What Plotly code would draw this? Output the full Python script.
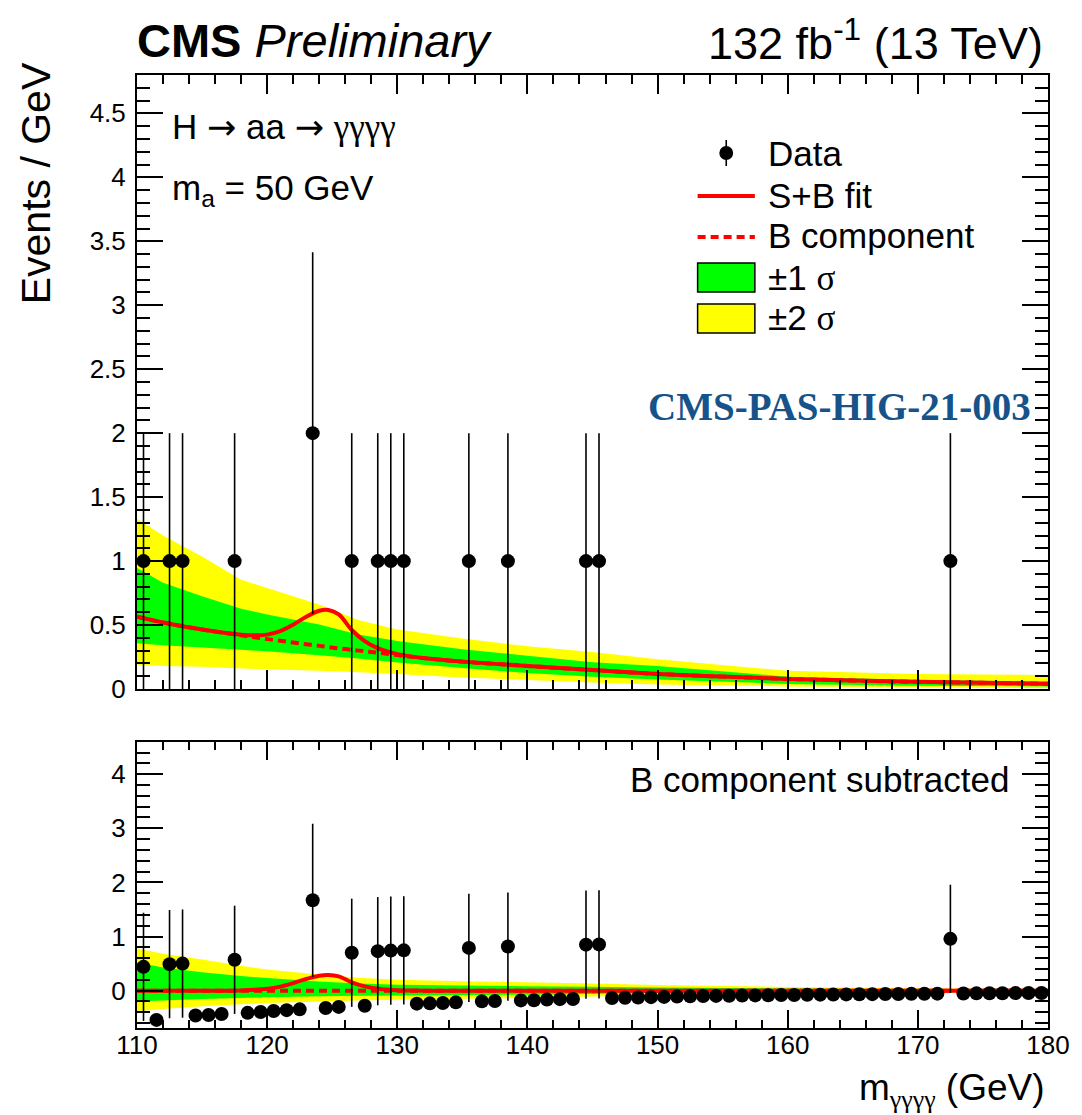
import numpy as np
import plotly.graph_objects as go

# ---------------------------------------------------------------- data
# 1 GeV bins from 110 to 180 GeV
bin_centers = np.arange(110.5, 180.0, 1.0)

# observed events per bin
counts = [1, 0, 1, 1, 0, 0, 0, 1, 0, 0,
          0, 0, 0, 2, 0, 0, 1, 0, 1, 1,
          1, 0, 0, 0, 0, 1, 0, 0, 1, 0,
          0, 0, 0, 0, 1, 1, 0, 0, 0, 0,
          0, 0, 0, 0, 0, 0, 0, 0, 0, 0,
          0, 0, 0, 0, 0, 0, 0, 0, 0, 0,
          0, 0, 1, 0, 0, 0, 0, 0, 0, 0]

# data after subtracting the background component (events / GeV)
residuals = [0.44, -0.54, 0.49, 0.50, -0.46, -0.45, -0.43, 0.57, -0.41, -0.395,
             -0.377, -0.36, -0.345, 1.67, -0.32, -0.30, 0.70, -0.28, 0.73, 0.74,
             0.745, -0.24, -0.235, -0.228, -0.216, 0.79, -0.198, -0.19, 0.815, -0.18,
             -0.178, -0.165, -0.157, -0.155, 0.85, 0.855, -0.136, -0.13, -0.126, -0.12,
             -0.115, -0.11, -0.105, -0.10, -0.097, -0.094, -0.091, -0.088, -0.085, -0.082,
             -0.079, -0.077, -0.074, -0.072, -0.069, -0.067, -0.065, -0.063, -0.061, -0.059,
             -0.057, -0.055, 0.957, -0.052, -0.05, -0.048, -0.047, -0.045, -0.044, -0.042]

# fit curves
curve_x = [110, 112, 115, 118, 119, 120, 121, 122, 123, 124, 124.7, 125.5, 126.5,
           127.5, 128.5, 130, 132, 135, 140, 145, 150, 155, 160, 165, 170, 175, 180]
b_curve = [0.565, 0.52, 0.465, 0.42, 0.405, 0.39, 0.377, 0.363, 0.35, 0.337, 0.328, 0.318,
           0.306, 0.295, 0.284, 0.265, 0.242, 0.214, 0.18, 0.148, 0.118, 0.097, 0.079,
           0.066, 0.056, 0.048, 0.041]
sb_curve = [0.565, 0.52, 0.465, 0.425, 0.42, 0.425, 0.452, 0.503, 0.565, 0.612, 0.618, 0.583,
            0.461, 0.375, 0.319, 0.273, 0.242, 0.214, 0.18, 0.148, 0.118, 0.097, 0.079,
            0.066, 0.056, 0.048, 0.041]

# uncertainty bands of the background component
band_x = [110, 112, 115, 118, 120, 124, 127, 130, 135, 140, 145, 150, 160, 170, 180]
top_up2 = [1.33, 1.20, 1.035, 0.855, 0.79, 0.66, 0.54, 0.466, 0.394, 0.335, 0.29, 0.233, 0.142, 0.117, 0.109]
top_up1 = [0.945, 0.83, 0.725, 0.627, 0.583, 0.505, 0.427, 0.376, 0.31, 0.26, 0.21, 0.18, 0.096, 0.07, 0.057]
top_lo1 = [0.357, 0.342, 0.324, 0.306, 0.295, 0.264, 0.238, 0.207, 0.165, 0.125, 0.095, 0.075, 0.04, 0.026, 0.02]
top_lo2 = [0.19, 0.18, 0.173, 0.16, 0.155, 0.142, 0.13, 0.117, 0.09, 0.07, 0.05, 0.035, 0.02, 0.013, 0.005]

bot_up2 = [0.78, 0.68, 0.574, 0.46, 0.39, 0.30, 0.24, 0.20, 0.175, 0.155, 0.13, 0.105, 0.068, 0.043, 0.03]
bot_up1 = [0.52, 0.43, 0.34, 0.27, 0.235, 0.17, 0.13, 0.11, 0.095, 0.08, 0.07, 0.06, 0.04, 0.025, 0.018]
bot_lo1 = [-0.2, -0.18, -0.155, -0.135, -0.124, -0.105, -0.095, -0.09, -0.082, -0.075, -0.06, -0.04, -0.03, -0.02, -0.015]
bot_lo2 = [-0.38, -0.34, -0.29, -0.25, -0.23, -0.2, -0.18, -0.17, -0.15, -0.136, -0.11, -0.087, -0.06, -0.04, -0.03]

# ---------------------------------------------------------------- style
W, H = 1082, 1115
ML, MR, MT, MB = 137, 22, 75, 87
FONT = "Liberation Sans, Arial, Helvetica, sans-serif"
SERIF = "Liberation Serif, Times New Roman, serif"
RED, GREEN, YELLOW = "#ff0000", "#00ff00", "#ffff00"


def px(x):
    return (x - ML) / (W - ML - MR)


def py(y):
    return (H - MB - y) / (H - MT - MB)


def greek(s):
    return '<span style="font-family:%s">%s</span>' % (SERIF, s)


ARROW = '<span style="font-family:DejaVu Sans">→</span>'

counts = np.array(counts, dtype=float)
residuals = np.array(residuals)
errors = np.sqrt(counts)
nonzero = counts > 0

fig = go.Figure()


def band(xs, lo, hi, color, xa, ya):
    fig.add_trace(go.Scatter(
        x=list(xs) + list(xs)[::-1], y=list(hi) + list(lo)[::-1],
        fill="toself", fillcolor=color, mode="none",
        xaxis=xa, yaxis=ya, showlegend=False, hoverinfo="skip"))


# top panel
band(band_x, top_lo2, top_up2, YELLOW, "x", "y")
band(band_x, top_lo1, top_up1, GREEN, "x", "y")
fig.add_trace(go.Scatter(x=curve_x, y=b_curve, mode="lines", line_shape="spline",
                         line=dict(color=RED, width=4, dash="8px,5px"),
                         xaxis="x", yaxis="y", showlegend=False))
fig.add_trace(go.Scatter(x=curve_x, y=sb_curve, mode="lines", line_shape="spline",
                         line=dict(color=RED, width=4),
                         xaxis="x", yaxis="y", showlegend=False))
fig.add_trace(go.Scatter(
    x=bin_centers[nonzero], y=counts[nonzero], mode="markers",
    marker=dict(color="black", size=14),
    error_y=dict(type="data", array=errors[nonzero], visible=True,
                 thickness=1.6, width=0, color="black"),
    xaxis="x", yaxis="y", showlegend=False))

# bottom panel
zeros = [0.0] * len(curve_x)
sig_only = [s - b for s, b in zip(sb_curve, b_curve)]
band(band_x, bot_lo2, bot_up2, YELLOW, "x2", "y2")
band(band_x, bot_lo1, bot_up1, GREEN, "x2", "y2")
fig.add_trace(go.Scatter(x=curve_x, y=zeros, mode="lines",
                         line=dict(color=RED, width=4, dash="8px,5px"),
                         xaxis="x2", yaxis="y2", showlegend=False))
fig.add_trace(go.Scatter(x=curve_x, y=sig_only, mode="lines", line_shape="spline",
                         line=dict(color=RED, width=4),
                         xaxis="x2", yaxis="y2", showlegend=False))
fig.add_trace(go.Scatter(
    x=bin_centers, y=residuals, mode="markers",
    marker=dict(color="black", size=14),
    error_y=dict(type="data", array=errors, visible=True,
                 thickness=1.6, width=0, color="black"),
    xaxis="x2", yaxis="y2", showlegend=False))

top_dom = [py(689), 1.0]
bot_dom = [0.0, py(741.7)]

common = dict(showline=True, linecolor="black", linewidth=2, mirror="allticks",
              ticks="inside", tickcolor="black", tickwidth=1.5, showgrid=False,
              zeroline=False, tickfont=dict(family=FONT, size=26, color="black"))

fig.update_layout(
    width=W, height=H, margin=dict(l=ML, r=MR, t=MT, b=MB),
    paper_bgcolor="white", plot_bgcolor="white", showlegend=False,
    font=dict(family=FONT, color="black"),
    xaxis=dict(common, domain=[0, 1], range=[110, 180], anchor="y",
               dtick=10, tick0=110, ticklen=19, showticklabels=False,
               minor=dict(dtick=2, ticklen=9, ticks="inside", tickcolor="black", tickwidth=1.5)),
    yaxis=dict(common, domain=top_dom, range=[0, 4.8], anchor="x",
               dtick=0.5, tick0=0, ticklen=26, ticklabelstandoff=4,
               minor=dict(dtick=0.1, ticklen=13, ticks="inside", tickcolor="black", tickwidth=1.5)),
    xaxis2=dict(common, domain=[0, 1], range=[110, 180], anchor="y2",
                dtick=10, tick0=110, ticklen=18, ticklabelstandoff=-7,
                minor=dict(dtick=2, ticklen=8, ticks="inside", tickcolor="black", tickwidth=1.5)),
    yaxis2=dict(common, domain=bot_dom, range=[-0.69, 4.6], anchor="x2",
                dtick=1, tick0=0, ticklen=26, ticklabelstandoff=4,
                minor=dict(dtick=0.2, ticklen=13, ticks="inside", tickcolor="black", tickwidth=1.5)),
)


def text(x, y, s, size, xanchor="left", yanchor="middle", color="black", family=FONT, angle=0):
    fig.add_annotation(x=px(x), y=py(y), xref="paper", yref="paper", text=s,
                       showarrow=False, xanchor=xanchor, yanchor=yanchor,
                       textangle=angle, font=dict(family=family, size=size, color=color))


# header
text(135, 40, "<b>CMS</b> <i>Preliminary</i>", 47)
text(1057, 40, "132 fb<sup>-1</sup> (13 TeV)", 45, xanchor="right")

# axis titles
text(1059, 1090, "m<sub>" + greek("γγγγ") + "</sub> (GeV)", 37, xanchor="right")
text(35, 60, "Events / GeV", 41, xanchor="center", yanchor="top", angle=-90)

# panel labels
text(170, 127, "H " + ARROW + " aa " + ARROW + " " + greek("γγγγ"), 35)
text(170, 190, "m<sub>a</sub> = 50 GeV", 35)
text(1023, 779, "B component subtracted", 35, xanchor="right")
text(1045, 406, "<b>CMS-PAS-HIG-21-003</b>", 39, xanchor="right",
     color="#15538a", family=SERIF)

# legend
lx0, lx1 = 705, 763
lxc = (lx0 + lx1) / 2
fig.add_shape(type="line", xref="paper", yref="paper",
              x0=px(lxc), x1=px(lxc), y0=py(140), y1=py(166),
              line=dict(color="black", width=1.6))
fig.add_shape(type="circle", xref="paper", yref="paper",
              x0=px(lxc - 7), x1=px(lxc + 7), y0=py(160), y1=py(146),
              fillcolor="black", line=dict(color="black", width=0))
fig.add_shape(type="line", xref="paper", yref="paper",
              x0=px(lx0), x1=px(lx1), y0=py(196), y1=py(196),
              line=dict(color=RED, width=4))
fig.add_shape(type="line", xref="paper", yref="paper",
              x0=px(lx0), x1=px(lx1), y0=py(237), y1=py(237),
              line=dict(color=RED, width=4, dash="8px,5px"))
fig.add_shape(type="rect", xref="paper", yref="paper",
              x0=px(lx0), x1=px(lx1), y0=py(292), y1=py(263),
              fillcolor=GREEN, line=dict(color="black", width=1.5))
fig.add_shape(type="rect", xref="paper", yref="paper",
              x0=px(lx0), x1=px(lx1), y0=py(333), y1=py(304),
              fillcolor=YELLOW, line=dict(color="black", width=1.5))
text(774, 153, "Data", 35)
text(774, 195, "S+B fit", 35)
text(774, 235, "B component", 35)
text(774, 278, "±1 " + greek("σ"), 35)
text(774, 318, "±2 " + greek("σ"), 35)

fig.write_html("out.html")
